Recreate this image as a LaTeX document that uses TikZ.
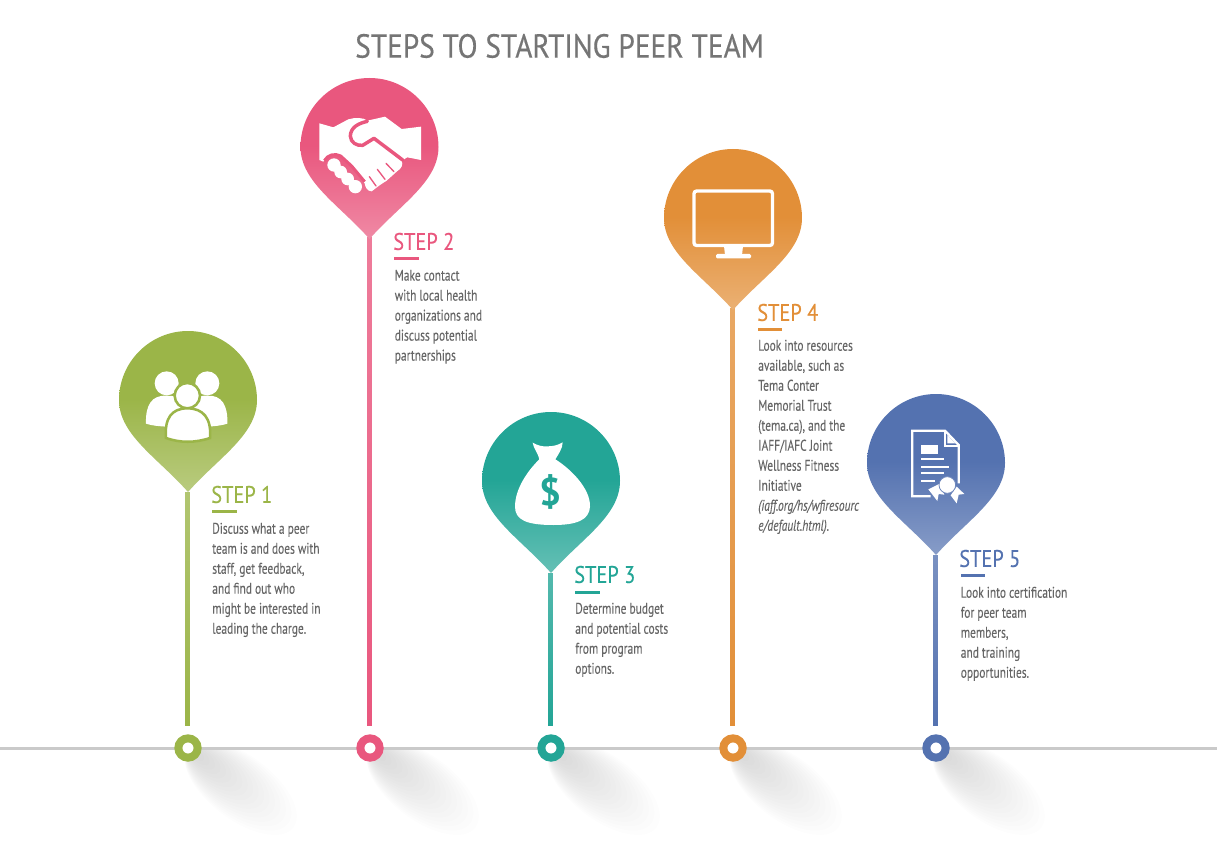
\documentclass[tikz,border=0pt]{standalone}
\usepackage{fontspec}
\setmainfont{PT Sans}
\newfontfamily\titlef[FakeStretch=0.88,FakeBold=0.4]{PT Sans}
\newfontfamily\stepf[FakeStretch=0.85,FakeBold=0.2]{PT Sans}
\newfontfamily\bodyf[FakeStretch=0.74,FakeBold=0.15,ItalicFeatures={FakeBold=0.15}]{PT Sans}
\definecolor{cgreen}{HTML}{9BB548}
\definecolor{cpink}{HTML}{E9577E}
\definecolor{cteal}{HTML}{23A596}
\definecolor{corange}{HTML}{E28F38}
\definecolor{cblue}{HTML}{5472B0}
\definecolor{ctext}{HTML}{666666}
\definecolor{cline}{HTML}{CACACA}
\newcommand{\pinpath}[2]{% centre x, centre y
  (#1,#2+92) .. controls (#1-30,#2+58) and (#1-69,#2+35) .. (#1-69,#2)
  .. controls (#1-69,#2-38) and (#1-38,#2-69) .. (#1,#2-69)
  .. controls (#1+38,#2-69) and (#1+69,#2-38) .. (#1+69,#2)
  .. controls (#1+69,#2+35) and (#1+30,#2+58) .. (#1,#2+92) -- cycle}
\newcommand{\castshadow}[2]{%
  \begin{scope}
    \clip (#1-30,#2+1.5) rectangle (#1+140,#2+100);
    \begin{scope}[shift={(#1,#2)},rotate=-37]
      \foreach \t in {0.10,0.15,...,1.01}{
        \fill[black,opacity=0.006] (66*\t,0) ellipse [x radius=66*\t,y radius=32*\t];
      }
    \end{scope}
  \end{scope}}
\newcommand{\declarepinshade}[1]{%
  \pgfdeclareverticalshading{pinshade#1}{100bp}{color(0bp)=(#1!70!white); color(25bp)=(#1!70!white); color(54bp)=(#1); color(100bp)=(#1)}}
\declarepinshade{cgreen}\declarepinshade{cpink}\declarepinshade{cteal}\declarepinshade{corange}\declarepinshade{cblue}
\tikzset{
  stepname/.style={anchor=west,inner sep=0pt,font=\stepf\fontsize{18}{20}\selectfont},
  bodytext/.style={anchor=north west,inner sep=0pt,align=left,text=ctext,font=\bodyf\fontsize{11.6}{15}\selectfont},
  ring/.style={circle,draw=#1,line width=6pt,fill=white,minimum size=14.5pt,inner sep=0pt},
  stepbar/.style={line width=2.2pt},
  stem/.style={top color=#1!78!white,middle color=#1!55!white,bottom color=#1},
  pinfill/.style={shading=pinshade#1},
}
\begin{document}
\begin{tikzpicture}[x=0.75pt,y=-0.75pt]
\useasboundingbox (0,0) rectangle (1217,859);
% shadows
\castshadow{188}{748}\castshadow{370}{748}\castshadow{551}{748}\castshadow{733}{748}\castshadow{936}{748}
% axis
\coordinate (axisL) at (0,748.5);
\coordinate (axisR) at (1217,748.5);
\draw[cline,line width=2.3pt] (axisL) -- (axisR);
% title
\node[anchor=west,inner sep=0pt,text=ctext!90!white,font=\titlef\fontsize{25}{26}\selectfont] (title) at (355,46) {STEPS TO STARTING PEER TEAM};
% stems
\foreach \n/\x/\y/\c in {1/187.5/492/cgreen,2/369.5/238/cpink,3/550.5/573/cteal,4/732.5/309/corange,5/935.5/555/cblue}{
  \coordinate (tip\n) at (\x,\y);
  \coordinate (foot\n) at (\x,725.5);
  \shade[stem=\c] ([xshift=-1.8pt]tip\n) rectangle ([xshift=1.8pt]foot\n);
}
% rings
\node[ring=cgreen] (ring1) at (188,748) {};
\node[ring=cpink] (ring2) at (370,748) {};
\node[ring=cteal] (ring3) at (551,748) {};
\node[ring=corange] (ring4) at (733,748) {};
\node[ring=cblue] (ring5) at (936,748) {};
% pins
\shade[pinfill=cgreen] \pinpath{188}{400};
\shade[pinfill=cpink] \pinpath{369.5}{147};
\shade[pinfill=cteal] \pinpath{551}{481};
\shade[pinfill=corange] \pinpath{733}{218};
\shade[pinfill=cblue] \pinpath{936}{463};
% --- people icon
\begin{scope}[shift={(110,325)},x=0.25pt,y=-0.25pt]
  \fill[white] (170,175) circle [radius=36];
  \fill[white] (292,175) circle [radius=36];
  \fill[white] (108,296) .. controls (106,240) and (125,210) .. (170,212) .. controls (215,210) and (240,240) .. (240,300) -- (170,305) .. controls (150,304) and (125,302) .. (108,296) -- cycle;
  \fill[white] (352,296) .. controls (354,240) and (335,210) .. (292,212) .. controls (245,210) and (225,240) .. (225,300) -- (290,305) .. controls (310,304) and (335,302) .. (352,296) -- cycle;
  \fill[white,draw=cgreen,line width=1.9pt] (232,212) circle [radius=38];
  \fill[white,draw=cgreen,line width=1.9pt] (168,339) .. controls (163,280) and (185,250) .. (232,250) .. controls (280,250) and (305,280) .. (300,339) .. controls (255,354) and (210,354) .. (168,339) -- cycle;
\end{scope}
% --- handshake icon
\begin{scope}[shift={(290,70)},x=0.25pt,y=-0.25pt]
  \fill[white] (88,160) -- (130,172) -- (175,148) .. controls (195,142) and (220,142) .. (232,152) -- (285,140) -- (335,177) -- (393,170) -- (393,270) -- (352,262) -- (335,272) .. controls (340,285) and (335,295) .. (320,305) -- (290,332) -- (270,345) -- (245,364) .. controls (232,364) and (226,352) .. (224,340) -- (180,285) -- (145,252) -- (118,255) -- (100,275) -- (88,270) -- cycle;
  \draw[cpink,line width=2.6pt,line cap=round,line join=round] (232,154) .. controls (205,160) and (182,172) .. (181,198) .. controls (182,218) and (200,228) .. (218,226) -- (252,205) -- (338,270);
  \draw[cpink,line width=1pt,line cap=round] (262,298) -- (285,328) (288,280) -- (312,305) (238,320) -- (258,348);
  \draw[cpink,line width=2.2pt,line join=round] (103,272) .. controls (112,255) and (135,248) .. (152,258) -- (185,288) -- (224,335);
  \fill[white] (132,285) circle [radius=20] (152,306) circle [radius=19] (173,327) circle [radius=19] (196,350) circle [radius=20];
\end{scope}
% --- money bag icon
\begin{scope}[shift={(470,405)},x=0.25pt,y=-0.25pt]
  \fill[white] (188,113) .. controls (205,122) and (215,125) .. (233,124) .. controls (250,124) and (265,120) .. (278,112) .. controls (278,130) and (265,148) .. (256,163) .. controls (300,190) and (362,250) .. (360,305) .. controls (358,345) and (320,360) .. (250,360) .. controls (170,360) and (135,345) .. (135,305) .. controls (135,250) and (175,195) .. (208,163) .. controls (205,145) and (190,130) .. (188,113) -- cycle;
\end{scope}
\node[inner sep=0pt,text=cteal,font=\fontsize{29}{29}\selectfont\bfseries] (dollar) at (550.5,492) {\$};
% --- monitor icon
\draw[white,line width=2.5pt,rounded corners=2pt] (694,191) rectangle (772.5,245.5);
\fill[white] (724,246) -- (743,246) -- (742,255) -- (725,255) -- cycle;
\fill[white,rounded corners=1pt] (716,254) rectangle (751,258.5);
% --- certificate icon
\begin{scope}[shift={(860,390)},x=0.25pt,y=-0.25pt]
  \draw[white,line width=1.7pt,line join=miter] (212,319) -- (157,319) -- (157,122) -- (255,122) -- (296,165) -- (296,280);
  \fill[white] (262,135) -- (262,160) -- (286,160) -- cycle;
  \draw[white,line width=1.4pt] (255,122) -- (255,168) -- (296,168);
  \fill[white] (182,165) rectangle (235,191);
  \draw[white,line width=1.3pt] (183,208) -- (252,208) (183,230) -- (268,230) (183,250) -- (252,250) (183,272) -- (225,272);
  \fill[white] (205,298) -- (237,282) -- (253,314) -- (236,312) -- (232,333) -- cycle;
  \fill[white] (272,316) -- (290,290) -- (313,312) -- (296,314) -- (290,340) -- cycle;
  \fill[white,draw=cblue!85!white,line width=0.6pt] (262,285) circle [radius=25];
\end{scope}
% --- step labels
\node[stepname,text=cgreen] (s1) at (211,494.5) {STEP 1};
\draw[cgreen,stepbar] (212,511.5) coordinate (b1a) -- (237,511.5) coordinate (b1b);
\node[bodytext] (t1) at (212,522.5) {Discuss what a peer\\team is and does with\\staff, get feedback,\\and find out who\\might be interested in\\leading the charge.};
\node[stepname,text=cpink] (s2) at (393,241.5) {STEP 2};
\draw[cpink,stepbar] (394,258.5) coordinate (b2a) -- (419,258.5) coordinate (b2b);
\node[bodytext] (t2) at (394.5,269.5) {Make contact\\with local health\\organizations and\\discuss potential\\partnerships};
\node[stepname,text=cteal] (s3) at (574,574.5) {STEP 3};
\draw[cteal,stepbar] (575,592.5) coordinate (b3a) -- (600,592.5) coordinate (b3b);
\node[bodytext] (t3) at (575,602.5) {Determine budget\\and potential costs\\from program\\options.};
\node[stepname,text=corange] (s4) at (757,312.5) {STEP 4};
\draw[corange,stepbar] (758,329.5) coordinate (b4a) -- (782,329.5) coordinate (b4b);
\node[bodytext] (t4) at (758,339.5) {Look into resources\\available, such as\\Tema Conter\\Memorial Trust\\(tema.ca), and the\\IAFF/IAFC Joint\\Wellness Fitness\\Initiative\\\textit{(iaff.org/hs/wfiresourc}\\\textit{e/default.html).}};
\node[stepname,text=cblue] (s5) at (959,558.5) {STEP 5};
\draw[cblue,stepbar] (961,575.5) coordinate (b5a) -- (985,575.5) coordinate (b5b);
\node[bodytext] (t5) at (960.5,586.5) {Look into certification\\for peer team\\members,\\and training\\opportunities.};
\end{tikzpicture}
\end{document}
